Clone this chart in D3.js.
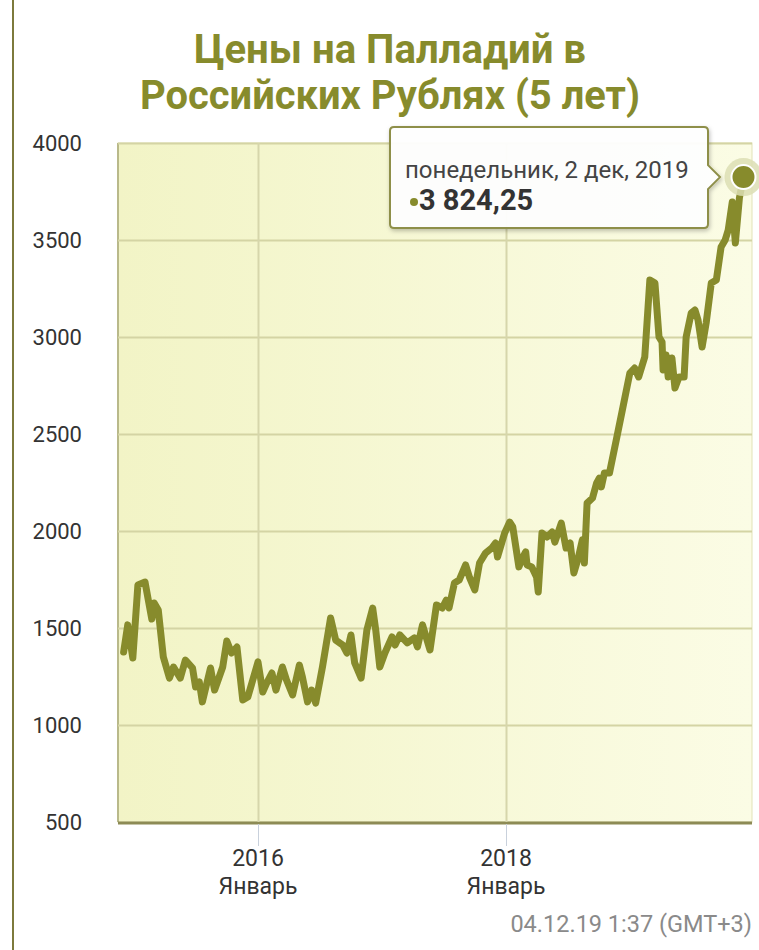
<!DOCTYPE html>
<html>
<head>
<meta charset="utf-8">
<script src="https://cdn.jsdelivr.net/npm/d3@7"></script>
<style>
  body { margin: 0; background: #fff; }
  svg { display: block; font-family: Roboto, "Noto Sans", sans-serif; }
</style>
</head>
<body>
<div id="plot"></div>
<script>
// palladium price in RUB
let dates = [
  '2014-12-01','2014-12-13','2014-12-28','2015-01-12','2015-02-02','2015-02-22','2015-03-01','2015-03-13',
  '2015-03-28','2015-04-15','2015-04-27','2015-05-17','2015-06-01','2015-06-22','2015-07-01','2015-07-12',
  '2015-07-21','2015-08-14','2015-08-26','2015-09-19','2015-10-01','2015-10-15','2015-10-31','2015-11-17',
  '2015-12-02','2016-01-01','2016-01-15','2016-01-27','2016-02-11','2016-02-23','2016-03-13','2016-03-25',
  '2016-04-12','2016-05-02','2016-05-11','2016-05-26','2016-06-07','2016-06-19','2016-07-09','2016-08-02',
  '2016-08-17','2016-09-07','2016-09-19','2016-10-01','2016-10-12','2016-10-31','2016-11-17','2016-12-04',
  '2016-12-13','2016-12-25','2017-01-09','2017-01-30','2017-02-08','2017-02-22','2017-03-16','2017-04-06',
  '2017-04-15','2017-04-30','2017-05-22','2017-06-10','2017-06-27','2017-07-09','2017-07-17','2017-08-02',
  '2017-08-16','2017-09-04','2017-09-16','2017-10-01','2017-10-15','2017-11-02','2017-11-20','2017-12-01',
  '2017-12-07','2017-12-28','2018-01-12','2018-01-21','2018-02-08','2018-02-20','2018-02-28','2018-03-04',
  '2018-03-18','2018-04-01','2018-04-06','2018-04-17','2018-05-02','2018-05-17','2018-05-25','2018-06-13',
  '2018-06-27','2018-07-09','2018-07-20','2018-08-02','2018-08-14','2018-08-20','2018-08-28','2018-09-13',
  '2018-09-25','2018-10-03','2018-10-09','2018-10-18','2018-11-02','2018-11-22','2018-12-10','2019-01-01',
  '2019-01-15','2019-01-27','2019-02-14','2019-03-01','2019-03-16','2019-03-28','2019-04-06','2019-04-09',
  '2019-04-18','2019-04-24','2019-05-05','2019-05-14','2019-05-26','2019-06-10','2019-06-16','2019-07-01',
  '2019-07-12','2019-07-21','2019-08-02','2019-08-14','2019-08-29','2019-09-13','2019-09-27','2019-10-09',
  '2019-10-18','2019-10-30','2019-11-08','2019-11-20','2019-12-02'
]
let prices = [
  1376, 1516, 1345, 1722, 1737, 1546, 1629, 1593,
  1350, 1242, 1299, 1242, 1335, 1294, 1196, 1222,
  1119, 1294, 1180, 1299, 1433, 1371, 1402, 1129,
  1144, 1325, 1170, 1217, 1268, 1180, 1299, 1232,
  1155, 1309, 1247, 1119, 1180, 1113, 1299, 1552,
  1438, 1412, 1371, 1464, 1320, 1242, 1490, 1603,
  1490, 1299, 1371, 1454, 1412, 1464, 1423, 1449,
  1402, 1516, 1387, 1619, 1603, 1644, 1603, 1732,
  1747, 1825, 1758, 1696, 1835, 1887, 1912, 1938,
  1866, 1990, 2046, 2021, 1815, 1866, 1892, 1825,
  1815, 1763, 1686, 1990, 1969, 1995, 1943, 2041,
  1912, 1938, 1784, 1861, 1954, 1835, 2144, 2170,
  2247, 2273, 2227, 2299, 2299, 2469, 2624, 2814,
  2840, 2794, 2897, 3294, 3278, 3000, 2974, 2830,
  2907, 2794, 2892, 2737, 2794, 2794, 3000, 3124,
  3139, 3088, 2948, 3072, 3278, 3294, 3464, 3500,
  3552, 3696, 3485, 3717, 3824.25
]
let yTicks = [500, 1000, 1500, 2000, 2500, 3000, 3500, 4000]
let xTicks = ['2016-01-01', '2018-01-01']
let xTickYears = ['2016', '2018']
let xTickMonths = ['Январь', 'Январь']
let titleLines = ['Цены на Палладий в', 'Российских Рублях (5 лет)']
let tooltipDate = 'понедельник, 2 дек, 2019'
let stamp = '04.12.19 1:37 (GMT+3)'

let parse = d3.timeParse('%Y-%m-%d')
let data = dates.map((d, i) => ({ date: parse(d), value: prices[i] }))

let olive = '#878b2c'
let W = 759, H = 950
let pLeft = 118, pRight = 752, pTop = 143, pBottom = 822

let svg = d3.select('#plot').append('svg')
  .attr('width', W)
  .attr('height', H)

let defs = svg.append('defs')
let bg = defs.append('linearGradient').attr('id', 'bg')
bg.append('stop').attr('offset', '0%').attr('stop-color', '#f2f4c6')
bg.append('stop').attr('offset', '100%').attr('stop-color', '#fbfce5')
let sh = defs.append('filter').attr('id', 'shadow')
  .attr('x', '-10%').attr('y', '-10%').attr('width', '130%').attr('height', '140%')
sh.append('feDropShadow').attr('dx', 1).attr('dy', 2).attr('stdDeviation', 2)
  .attr('flood-color', '#000').attr('flood-opacity', 0.25)

// page edge on the left
svg.append('line')
  .attr('x1', 13).attr('x2', 13).attr('y1', 0).attr('y2', H)
  .attr('stroke', '#7d7a3c').attr('stroke-width', 2)

// title
let titleWidths = [392, 500]
svg.append('g').selectAll('text').data(titleLines).enter()
  .append('text')
  .attr('x', 390)
  .attr('y', (d, i) => 63 + i * 46)
  .attr('text-anchor', 'middle')
  .attr('fill', olive)
  .attr('textLength', (d, i) => titleWidths[i])
  .attr('lengthAdjust', 'spacingAndGlyphs')
  .style('font-size', '41px')
  .style('font-weight', 'bold')
  .text(d => d)

// scales
let x = d3.scaleTime()
  .domain([parse(xTicks[0]), parse(xTicks[1])])
  .range([258, 506])
x.domain([x.invert(pLeft), x.invert(pRight)]).range([pLeft, pRight])

let y = d3.scaleLinear().domain([500, 4000]).range([pBottom, pTop])

// plot background
svg.append('rect')
  .attr('x', pLeft).attr('y', pTop)
  .attr('width', pRight - pLeft).attr('height', pBottom - pTop)
  .attr('fill', 'url(#bg)')
  .attr('stroke', '#e2e3b8')
svg.append('line')
  .attr('x1', pLeft).attr('x2', pLeft).attr('y1', pTop).attr('y2', pBottom)
  .attr('stroke', '#b9b98a').attr('stroke-width', 2)
svg.append('line')
  .attr('x1', pLeft).attr('x2', pRight).attr('y1', pBottom + 1).attr('y2', pBottom + 1)
  .attr('stroke', '#8d8b55').attr('stroke-width', 3)

// grid
svg.append('g')
  .attr('transform', 'translate(' + pLeft + ',0)')
  .call(d3.axisLeft(y).tickValues(yTicks.slice(1)).tickSize(-(pRight - pLeft)).tickFormat(''))
  .call(g => g.select('.domain').remove())
  .call(g => g.selectAll('line').attr('stroke', '#d4d4a4').attr('stroke-width', 2))

svg.append('g')
  .attr('transform', 'translate(0,' + pTop + ')')
  .call(d3.axisBottom(x).tickValues(xTicks.map(parse)).tickSize(pBottom - pTop).tickFormat(''))
  .call(g => g.select('.domain').remove())
  .call(g => g.selectAll('line').attr('stroke', '#d6d6ab').attr('stroke-width', 2))

// tick marks under the plot
svg.append('g')
  .attr('transform', 'translate(0,' + (pBottom + 2) + ')')
  .call(d3.axisBottom(x).tickValues(xTicks.map(parse)).tickSize(22).tickFormat(''))
  .call(g => g.select('.domain').remove())
  .call(g => g.selectAll('line').attr('stroke', '#c9d1dc'))

// y labels
svg.append('g')
  .attr('transform', 'translate(82,0)')
  .call(d3.axisLeft(y).tickValues(yTicks).tickSize(0).tickPadding(0).tickFormat(d3.format('d')))
  .call(g => g.select('.domain').remove())
  .call(g => g.selectAll('text')
    .attr('fill', '#333')
    .attr('dy', '0.36em')
    .style('font-size', '22px')
    .style('font-family', 'Roboto, sans-serif'))

// x labels
let xl = svg.append('g').selectAll('g').data(xTicks).enter().append('g')
  .attr('transform', d => 'translate(' + x(parse(d)) + ',0)')
xl.append('text')
  .attr('y', 866).attr('text-anchor', 'middle')
  .attr('fill', '#333').style('font-size', '23px')
  .text((d, i) => xTickYears[i])
xl.append('text')
  .attr('y', 894).attr('text-anchor', 'middle')
  .attr('fill', '#333').style('font-size', '23px')
  .text((d, i) => xTickMonths[i])

// price line
let line = d3.line()
  .x(d => x(d.date))
  .y(d => y(d.value))

svg.append('path')
  .datum(data)
  .attr('d', line)
  .attr('fill', 'none')
  .attr('stroke', olive)
  .attr('stroke-width', 7)
  .attr('stroke-linejoin', 'round')
  .attr('stroke-linecap', 'round')

// hovered point
let last = data[data.length - 1]
svg.append('circle')
  .attr('cx', x(last.date)).attr('cy', y(last.value))
  .attr('r', 19)
  .attr('fill', '#dcdeb4').attr('opacity', 0.85)
svg.append('circle')
  .attr('cx', x(last.date)).attr('cy', y(last.value))
  .attr('r', 12)
  .attr('fill', olive)
  .attr('stroke', '#fff').attr('stroke-width', 2)

// tooltip
let tx = 390, ty = 127, tw = 318, th = 101
let ay = y(last.value)
let tip = svg.append('g')
tip.append('path')
  .attr('d', 'M' + (tx + 4) + ',' + ty +
    ' H' + (tx + tw - 4) + ' Q' + (tx + tw) + ',' + ty + ' ' + (tx + tw) + ',' + (ty + 4) +
    ' V' + (ay - 12) + ' L' + (tx + tw + 12) + ',' + ay + ' L' + (tx + tw) + ',' + (ay + 12) +
    ' V' + (ty + th - 4) + ' Q' + (tx + tw) + ',' + (ty + th) + ' ' + (tx + tw - 4) + ',' + (ty + th) +
    ' H' + (tx + 4) + ' Q' + tx + ',' + (ty + th) + ' ' + tx + ',' + (ty + th - 4) +
    ' V' + (ty + 4) + ' Q' + tx + ',' + ty + ' ' + (tx + 4) + ',' + ty + ' Z')
  .attr('fill', '#fff')
  .attr('fill-opacity', 0.95)
  .attr('stroke', '#8e8f4a')
  .attr('stroke-width', 2)
  .attr('filter', 'url(#shadow)')

let ru = d3.formatLocale({ decimal: ',', thousands: ' ', grouping: [3], currency: ['', ''] })

tip.append('text')
  .attr('x', tx + 15).attr('y', ty + 51)
  .attr('fill', '#444').style('font-size', '24px')
  .text(tooltipDate)
tip.append('circle')
  .attr('cx', tx + 24).attr('cy', ty + 75)
  .attr('r', 4)
  .attr('fill', olive)
tip.append('text')
  .attr('x', tx + 29).attr('y', ty + 83)
  .attr('fill', '#333')
  .style('font-size', '29px')
  .style('font-weight', 'bold')
  .text(ru.format(',.2f')(last.value))

// timestamp
svg.append('text')
  .attr('x', 752).attr('y', 932)
  .attr('text-anchor', 'end')
  .attr('fill', '#8a8a8a')
  .style('font-size', '23.5px')
  .text(stamp)
</script>
</body>
</html>
